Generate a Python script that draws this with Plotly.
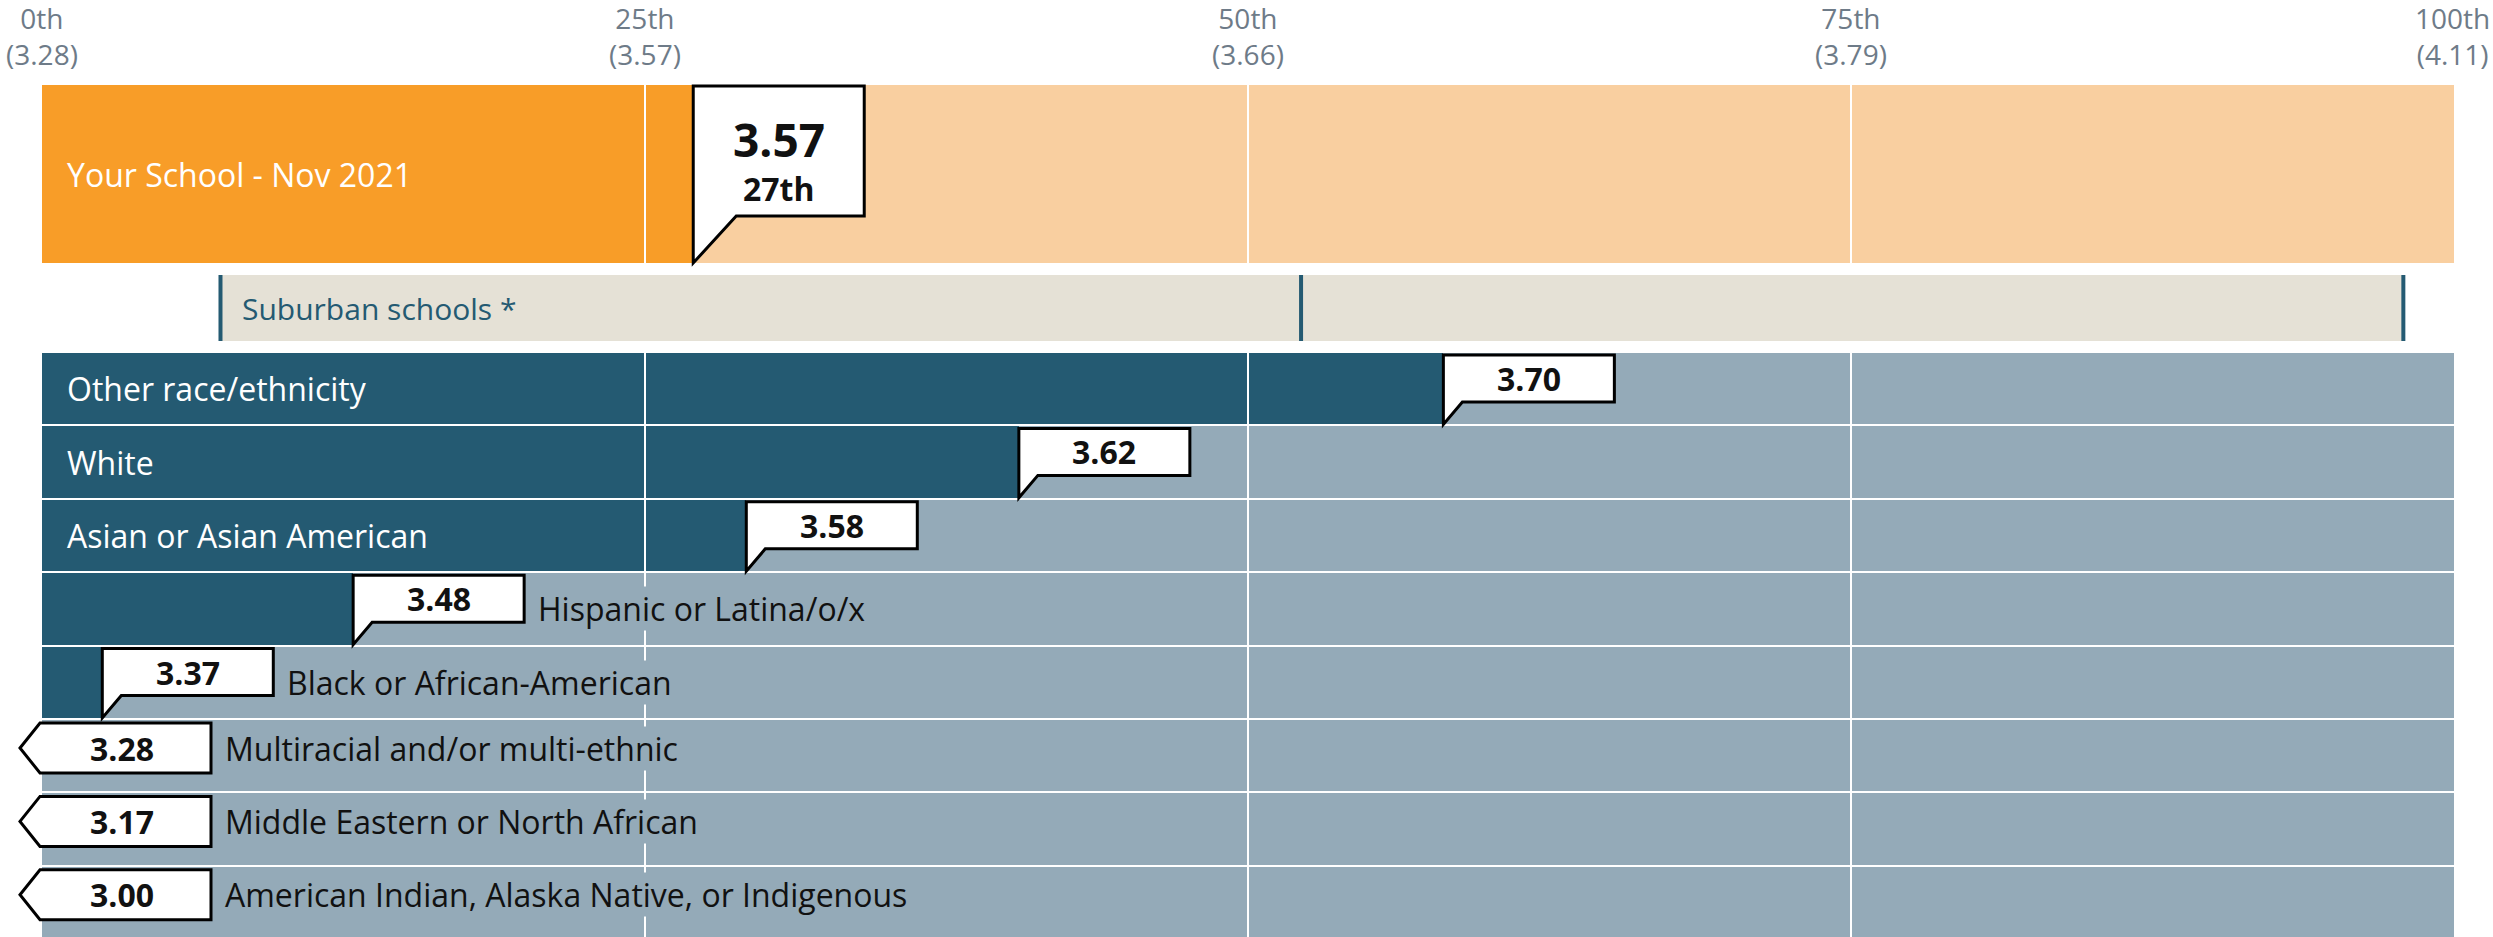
import plotly.graph_objects as go

# Percentile scale: tick positions and the score each one corresponds to
tick_pcts = [0, 25, 50, 75, 100]
tick_scores = [3.28, 3.57, 3.66, 3.79, 4.11]

# Headline school result
school_label = "Your School - Nov 2021"
school_score = 3.57
school_pct = 27

# Comparison group range (min, median, max percentile)
comparison_label = "Suburban schools *"
comparison_pcts = [7.4, 52.2, 97.9]

# Race / ethnicity breakdown
groups = [
    "Other race/ethnicity",
    "White",
    "Asian or Asian American",
    "Hispanic or Latina/o/x",
    "Black or African-American",
    "Multiracial and/or multi-ethnic",
    "Middle Eastern or North African",
    "American Indian, Alaska Native, or Indigenous",
]
group_scores = [3.70, 3.62, 3.58, 3.48, 3.37, 3.28, 3.17, 3.00]
group_pcts = [58.1, 40.5, 29.2, 12.9, 2.5, 0, 0, 0]

# ---- styling / geometry ----
W, H = 2493, 937
X0 = 42.0            # pixel position of the 0th percentile
PX = 24.12           # pixels per percentile point
FONT = "Open Sans"

ORANGE = "#F89D28"
ORANGE_LIGHT = "#F9CFA0"
BEIGE = "#E5E1D6"
BLUE = "#245A72"
BLUE_LIGHT = "#94AAB8"
TICK_GRAY = "#6E7B88"
INK = "#111111"

SCHOOL_TOP, SCHOOL_BOT = 85, 263
COMP_TOP, COMP_BOT = 275, 341
ROW_TOP, ROW_PITCH, ROW_GAP = 352, 73.4, 2

CALLOUT_W = 171


def ordinal(n):
    n = int(round(n))
    if 10 <= n % 100 <= 20:
        suf = "th"
    else:
        suf = {1: "st", 2: "nd", 3: "rd"}.get(n % 10, "th")
    return f"{n}{suf}"


fig = go.Figure()


def hbar(y_center, length, base, width, color):
    fig.add_trace(go.Bar(
        orientation="h", y=[y_center], x=[length], base=[base], width=width,
        marker=dict(color=color, line=dict(width=0)), hoverinfo="skip",
    ))


# School band
school_mid = (SCHOOL_TOP + SCHOOL_BOT) / 2
hbar(school_mid, 100, 0, SCHOOL_BOT - SCHOOL_TOP, ORANGE_LIGHT)
hbar(school_mid, school_pct, 0, SCHOOL_BOT - SCHOOL_TOP, ORANGE)

# Comparison band
comp_mid = (COMP_TOP + COMP_BOT) / 2
hbar(comp_mid, comparison_pcts[2] - comparison_pcts[0], comparison_pcts[0],
     COMP_BOT - COMP_TOP, BEIGE)

# Group rows
row_tops = [ROW_TOP + i * ROW_PITCH for i in range(len(groups))]
row_mids = [t + ROW_PITCH / 2 for t in row_tops]
for mid, pct in zip(row_mids, group_pcts):
    hbar(mid, 100, 0, ROW_PITCH - ROW_GAP, BLUE_LIGHT)
    if pct > 0:
        hbar(mid, pct, 0, ROW_PITCH - ROW_GAP, BLUE)

shapes = []
annotations = []

# Quartile gridlines over the school band and the group rows
rows_bottom = row_tops[-1] + ROW_PITCH
for p in tick_pcts[1:-1]:
    for y0, y1 in [(SCHOOL_TOP, SCHOOL_BOT), (ROW_TOP, rows_bottom)]:
        shapes.append(dict(type="line", xref="x", yref="y", x0=p, x1=p, y0=y0, y1=y1,
                           line=dict(color="white", width=2), layer="above"))

# Comparison range markers
for p in comparison_pcts:
    shapes.append(dict(type="line", xref="x", yref="y", x0=p, x1=p,
                       y0=COMP_TOP, y1=COMP_BOT,
                       line=dict(color=BLUE, width=4), layer="above"))
annotations.append(dict(
    x=comparison_pcts[0], y=comp_mid, xref="x", yref="y", xshift=20,
    xanchor="left", yanchor="middle", showarrow=False,
    text=comparison_label, font=dict(family=FONT, size=30, color=BLUE),
))

# Axis tick labels (percentile over score)
for p, s in zip(tick_pcts, tick_scores):
    if p == tick_pcts[-1]:
        anchor, shift = "right", (W - X0 - 100 * PX) - 1
    else:
        anchor, shift = "center", 0
    annotations.append(dict(x=p, y=36, xref="x", yref="y", showarrow=False,
                            xanchor=anchor, xshift=shift, yanchor="middle",
                            align="center", text=f"{ordinal(p)}<br>({s:.2f})",
                            font=dict(family=FONT, size=28, color=TICK_GRAY)))

# School label and callout
annotations.append(dict(x=0, y=school_mid, xref="x", yref="y", xshift=23,
                        xanchor="left", yanchor="middle", showarrow=False,
                        text=school_label, font=dict(family=FONT, size=32, color="white")))
box_bot = 216
shapes.append(dict(
    type="path", xref="x", yref="y", xsizemode="pixel", xanchor=school_pct,
    path=(f"M 0,{SCHOOL_BOT} L 0,{SCHOOL_TOP + 1} L {CALLOUT_W},{SCHOOL_TOP + 1} "
          f"L {CALLOUT_W},{box_bot} L 43,{box_bot} Z"),
    fillcolor="white", line=dict(color="black", width=3), layer="above",
))
annotations.append(dict(x=school_pct, y=139, xref="x", yref="y", xshift=CALLOUT_W / 2,
                        xanchor="center", yanchor="middle", showarrow=False,
                        text=f"{school_score:.2f}",
                        font=dict(family=FONT, size=46, color=INK, weight="bold")))
annotations.append(dict(x=school_pct, y=188, xref="x", yref="y", xshift=CALLOUT_W / 2,
                        xanchor="center", yanchor="middle", showarrow=False,
                        text=ordinal(school_pct),
                        font=dict(family=FONT, size=32, color=INK, weight="bold")))

# Group labels and callouts
for name, score, pct, top, mid in zip(groups, group_scores, group_pcts, row_tops, row_mids):
    bot = top + ROW_PITCH - ROW_GAP / 2
    label_font = dict(family=FONT, size=32)
    if pct <= 0:
        # value at or below the scale minimum: arrow pointing left
        bt, bb = top + 4, top + 54
        bm = (bt + bb) / 2
        shapes.append(dict(
            type="path", xref="x", yref="y", xsizemode="pixel", xanchor=pct,
            path=(f"M -22,{bm} L -2,{bt} L {CALLOUT_W - 2},{bt} "
                  f"L {CALLOUT_W - 2},{bb} L -2,{bb} Z"),
            fillcolor="white", line=dict(color="black", width=3), layer="above",
        ))
        annotations.append(dict(x=pct, y=bm, xref="x", yref="y", xshift=(CALLOUT_W - 2) / 2 - 5,
                                xanchor="center", yanchor="middle", showarrow=False,
                                text=f"{score:.2f}",
                                font=dict(family=FONT, size=32, color=INK, weight="bold")))
        annotations.append(dict(x=pct, y=bm, xref="x", yref="y", xshift=182,
                                xanchor="left", yanchor="middle", showarrow=False,
                                text=name, bgcolor=BLUE_LIGHT, borderpad=0,
                                font=dict(label_font, color=INK)))
        continue

    bt, bb = top + 3, top + 50
    shapes.append(dict(
        type="path", xref="x", yref="y", xsizemode="pixel", xanchor=pct,
        path=(f"M 0,{bot} L 0,{bt} L {CALLOUT_W},{bt} "
              f"L {CALLOUT_W},{bb} L 19,{bb} Z"),
        fillcolor="white", line=dict(color="black", width=3), layer="above",
    ))
    annotations.append(dict(x=pct, y=(bt + bb) / 2, xref="x", yref="y", xshift=CALLOUT_W / 2,
                            xanchor="center", yanchor="middle", showarrow=False,
                            text=f"{score:.2f}",
                            font=dict(family=FONT, size=32, color=INK, weight="bold")))
    fits_inside = pct * PX > len(name) * 15 + 60
    if fits_inside:
        annotations.append(dict(x=0, y=mid, xref="x", yref="y", xshift=23,
                                xanchor="left", yanchor="middle", showarrow=False,
                                text=name, font=dict(label_font, color="white")))
    else:
        annotations.append(dict(x=pct, y=mid, xref="x", yref="y", xshift=CALLOUT_W + 13,
                                xanchor="left", yanchor="middle", showarrow=False,
                                text=name, bgcolor=BLUE_LIGHT, borderpad=0,
                                font=dict(label_font, color=INK)))

fig.update_layout(
    width=W, height=H,
    margin=dict(l=0, r=0, t=0, b=0),
    paper_bgcolor="white", plot_bgcolor="white",
    barmode="overlay", bargap=0, showlegend=False,
    xaxis=dict(range=[-X0 / PX, (W - X0) / PX], visible=False, fixedrange=True),
    yaxis=dict(range=[H, 0], visible=False, fixedrange=True),
    shapes=shapes, annotations=annotations,
    font=dict(family=FONT),
)

fig.write_html("out.html", config={"displayModeBar": False})
